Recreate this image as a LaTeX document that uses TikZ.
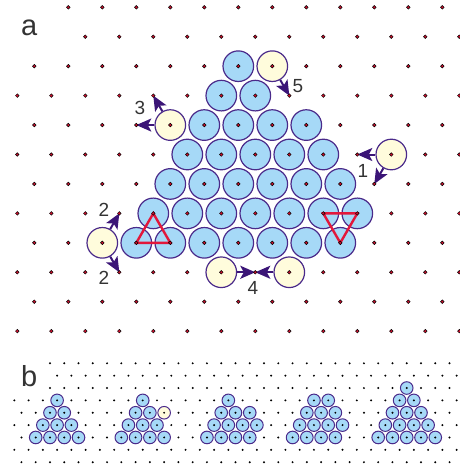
\documentclass[tikz,border=0pt]{standalone}
\usepackage{fontspec}
\setmainfont{Liberation Sans}
\usetikzlibrary{arrows.meta}

\definecolor{atomblue}{HTML}{A6D9F7}
\definecolor{adyellow}{HTML}{FFFCDC}
\definecolor{rim}{HTML}{4A2A8A}
\definecolor{hop}{HTML}{3B1577}
\definecolor{trired}{HTML}{E2173B}
\definecolor{dotred}{HTML}{D0102E}
\definecolor{labgray}{HTML}{333333}

\begin{document}
\begin{tikzpicture}[x=1pt, y=-1pt, >={Stealth[length=15pt, width=13pt, inset=3.5pt]},
    atom/.style={circle, draw=rim, fill=atomblue, line width=1.2pt, minimum size=30.6pt, inner sep=0pt},
    adatom/.style={atom, fill=adyellow},
    small atom/.style={circle, draw=rim, fill=atomblue, line width=1pt, minimum size=12.6pt, inner sep=0pt},
    small adatom/.style={small atom, fill=adyellow},
    jump/.style={->, draw=hop, line width=2pt},
    tri/.style={draw=trired, line width=2.4pt, line join=miter},
    lab/.style={text=labgray, font=\fontsize{19}{22}\selectfont, inner sep=0pt},
    panel/.style={text=labgray, font=\fontsize{29}{34}\selectfont, inner sep=0pt, anchor=base west}]

    \useasboundingbox (0,0) rectangle (459,466);

    % Panel labels
    \node[panel] (pa) at (21,35) {a};
    \node[panel] (pb) at (21,386.5) {b};

    % a: site (i,r) at x = 17.3 + 17 i, y = 7.3 + 29.44 r
    \begin{scope}[shift={(17.3pt,-7.3pt)}, x=17pt, y=-29.44pt]
        % Atoms
        \foreach \i/\r in {13/2, 12/3, 14/3, 11/4, 13/4, 15/4, 17/4,
                10/5, 12/5, 14/5, 16/5, 18/5, 9/6, 11/6, 13/6, 15/6, 17/6, 19/6,
                8/7, 10/7, 12/7, 14/7, 16/7, 18/7, 20/7, 7/8, 9/8, 11/8, 13/8, 15/8, 17/8, 19/8}
            \node[atom] (a-\i-\r) at (\i,\r) {};

        % Adatoms
        \node[adatom] (ad1) at (22,5) {};
        \node[adatom] (ad2) at (5,8) {};
        \node[adatom] (ad3) at (9,4) {};
        \node[adatom] (ad4) at (12,9) {};
        \node[adatom] (ad4b) at (16,9) {};
        \node[adatom] (ad5) at (15,2) {};

        % Triangles
        \draw[tri] (a-8-7.center) -- (a-7-8.center) -- (a-9-8.center) -- cycle;
        \draw[tri] (a-18-7.center) -- (a-20-7.center) -- (a-19-8.center) -- cycle;

        % Targets
        \coordinate (t1a) at (20,5);
        \coordinate (t1b) at (21,6);
        \coordinate (t2a) at (6,7);
        \coordinate (t2b) at (6,9);
        \coordinate (t3a) at (7,4);
        \coordinate (t3b) at (8,3);
        \coordinate (t4) at (14,9);
        \coordinate (t5) at (16,3);

        % Connections
        \draw[jump] (ad1) -- (t1a);
        \draw[jump] (ad1) -- (t1b);
        \draw[jump] (ad2) -- (t2a);
        \draw[jump] (ad2) -- (t2b);
        \draw[jump] (ad3) -- (t3a);
        \draw[jump] (ad3) -- (t3b);
        \draw[jump] (ad4) -- (t4);
        \draw[jump] (ad4b) -- (t4);
        \draw[jump] (ad5) -- (t5);

        % Sites
        \foreach \r in {0,...,11} {
            \pgfmathtruncatemacro\st{\r==0 ? 3 : (\r==1 ? 4 : mod(\r+1,2))}
            \pgfmathtruncatemacro\nx{\st+2}
            \foreach \i in {\st,\nx,...,26}
                \filldraw[fill=dotred, draw=black, line width=0.5pt] (\i,\r) circle[radius=1.8pt];
        }
    \end{scope}

    % Labels
    \node[lab] (l1) at (363,171) {1};
    \node[lab] (l2a) at (104,210) {2};
    \node[lab] (l2b) at (104,277.5) {2};
    \node[lab] (l3) at (140,108) {3};
    \node[lab] (l4) at (253,288) {4};
    \node[lab] (l5) at (298,86) {5};

    % b: site (i,r) at x = 14.3 + 7.135 i, y = 363.3 + 12.36 r
    \begin{scope}[shift={(14.3pt,-363.3pt)}, x=7.135pt, y=-12.36pt]
        % Clusters
        \foreach \i/\r in {6/3, 5/4, 7/4, 4/5, 6/5, 8/5, 3/6, 5/6, 7/6, 9/6,
                18/3, 17/4, 19/4, 16/5, 18/5, 20/5, 15/6, 17/6, 19/6, 21/6,
                30/3, 29/4, 31/4, 33/4, 28/5, 30/5, 32/5, 34/5, 27/6, 29/6, 31/6, 33/6,
                42/3, 44/3, 41/4, 43/4, 45/4, 40/5, 42/5, 44/5, 46/5, 39/6, 41/6, 43/6, 45/6,
                55/2, 54/3, 56/3, 53/4, 55/4, 57/4, 52/5, 54/5, 56/5, 58/5, 51/6, 53/6, 55/6, 57/6, 59/6}
            \node[small atom] (b-\i-\r) at (\i,\r) {};
        \node[small adatom] (bad) at (21,4) {};

        % Sites
        \foreach \r in {0,...,8} {
            \pgfmathtruncatemacro\st{\r==0 ? 5 : (\r==1 ? 6 : (\r==2 ? 5 : mod(\r+1,2)))}
            \pgfmathtruncatemacro\nx{\st+2}
            \foreach \i in {\st,\nx,...,62}
                \fill[black] (\i,\r) circle[radius=1.1pt];
        }
    \end{scope}
\end{tikzpicture}
\end{document}
